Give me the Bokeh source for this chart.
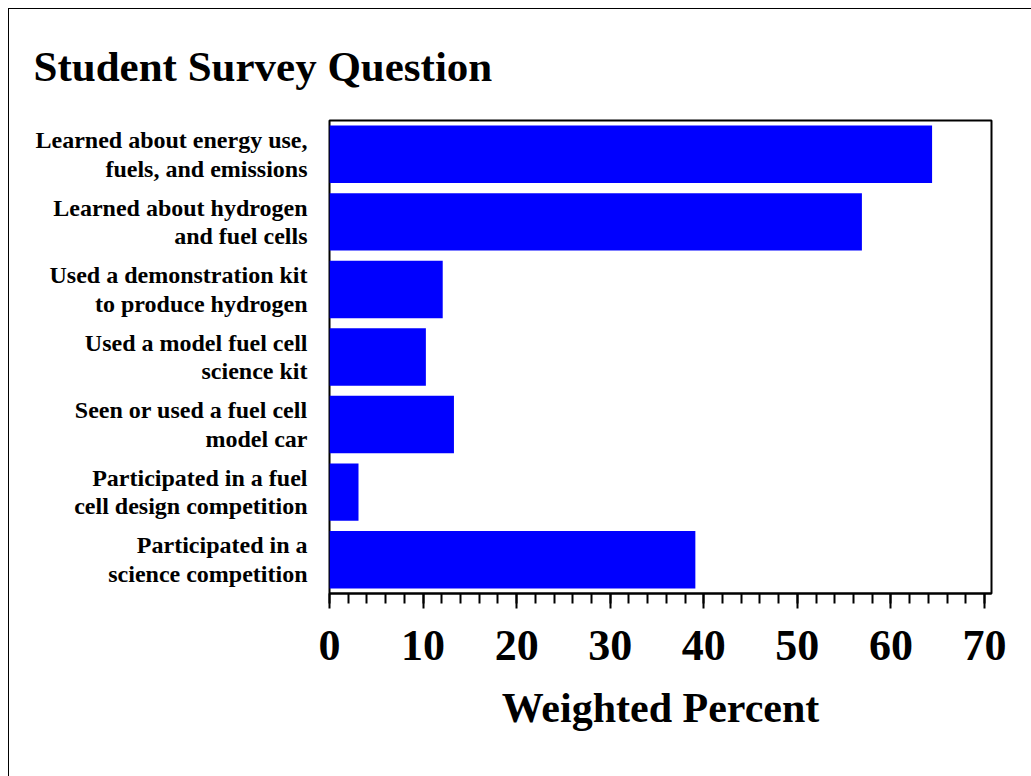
from bokeh.plotting import figure
from bokeh.models import FixedTicker, Range1d
from bokeh.embed import file_html
from bokeh.resources import INLINE

# ---- data ----
categories = [
    "Learned about energy use,\nfuels, and emissions",
    "Learned about hydrogen\nand fuel cells",
    "Used a demonstration kit\nto produce hydrogen",
    "Used a model fuel cell\nscience kit",
    "Seen or used a fuel cell\nmodel car",
    "Participated in a fuel\ncell design competition",
    "Participated in a\nscience competition",
]
values = [64.4, 56.9, 12.1, 10.3, 13.3, 3.1, 39.1]
x_ticks = [0, 10, 20, 30, 40, 50, 60, 70]
x_minor_ticks = list(range(0, 71, 2))
title_text = "Student Survey Question"
x_label = "Weighted Percent"

FONT = "Liberation Serif"

p = figure(
    width=1023, height=768,
    y_range=list(reversed(categories)),
    x_range=Range1d(0, 70.75),
    output_backend="svg", toolbar_location=None,
    min_border_left=320, min_border_right=41,
    min_border_top=110, min_border_bottom=184,
    title=title_text,
)
p.margin = (8, 0, 0, 8)
p.styles = {"border-left": "1px solid black", "border-top": "1px solid black"}

p.hbar(y=categories, right=values, left=0, height=0.85,
       fill_color="#0000FF", line_color=None)

# title
p.title.text_font = FONT
p.title.text_font_style = "bold"
p.title.text_font_size = "43px"
p.title.align = "left"
p.title.offset = -296
p.title.standoff = 62
p.title.text_color = "black"

# frame
p.outline_line_color = "black"
p.outline_line_width = 2
p.outline_line_alpha = 1
p.background_fill_color = "white"
p.border_fill_color = "white"
p.xgrid.visible = False
p.ygrid.visible = False

# x axis
xa = p.xaxis[0]
xa.ticker = FixedTicker(ticks=x_ticks, minor_ticks=x_minor_ticks)
xa.axis_line_color = "black"
xa.axis_line_width = 2
xa.major_tick_line_width = 2
xa.minor_tick_line_width = 2
xa.major_tick_in = 0
xa.major_tick_out = 15
xa.minor_tick_in = 0
xa.minor_tick_out = 10
xa.major_label_text_font = FONT
xa.major_label_text_font_style = "bold"
xa.major_label_text_font_size = "44px"
xa.major_label_text_color = "black"
xa.major_label_standoff = 22
xa.axis_label = x_label
xa.axis_label_text_font = FONT
xa.axis_label_text_font_style = "bold"
xa.axis_label_text_font_size = "42px"
xa.axis_label_text_color = "black"
xa.axis_label_standoff = 22

# y axis
ya = p.yaxis[0]
ya.axis_line_color = None
ya.major_tick_line_color = None
ya.minor_tick_line_color = None
ya.major_label_text_font = FONT
ya.major_label_text_font_style = "bold"
ya.major_label_text_font_size = "24px"
ya.major_label_text_color = "black"
ya.major_label_text_line_height = 1.1
ya.major_label_standoff = 16

open("out.html", "w").write(file_html(p, INLINE))
